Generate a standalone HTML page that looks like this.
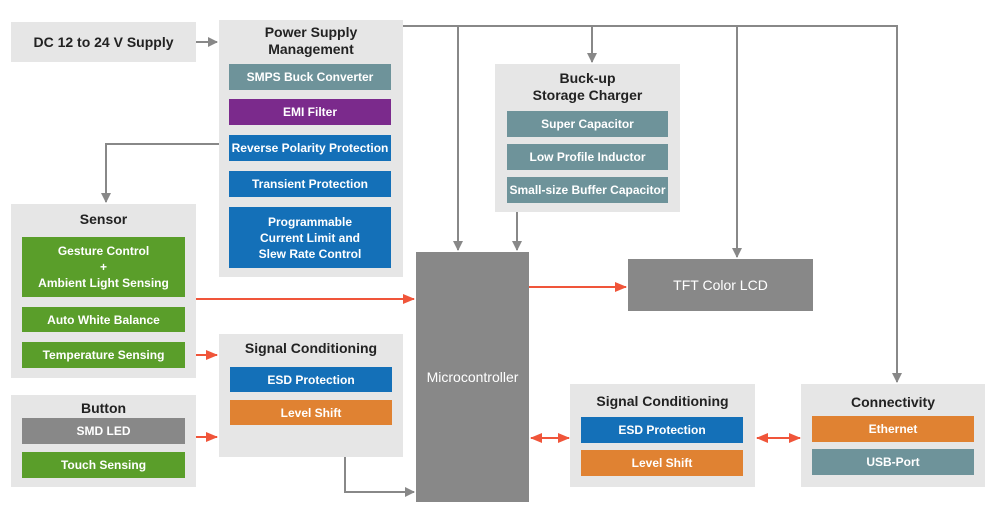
<!DOCTYPE html>
<html><head><style>
body{margin:0;width:995px;height:518px;background:#fff;position:relative;font-family:"Liberation Sans",Arial,sans-serif;overflow:hidden}
.g{position:absolute;background:#e6e6e6}
.t{position:absolute;font-weight:bold;color:#222;font-size:14px;text-align:center;line-height:17px}
.b{position:absolute;color:#fff;font-weight:bold;font-size:12px;display:flex;align-items:center;justify-content:center;text-align:center;line-height:16px}
.s{background:#6e939a}.p{background:#7b2a8c}.bl{background:#1470b8}.gr{background:#5a9e2a}.o{background:#e08232}.gy{background:#888}
svg{position:absolute;left:0;top:0}
</style></head><body>
<div class="g" style="left:11px;top:22px;width:185px;height:40px"></div>
<div class="t" style="left:11px;top:34px;width:185px">DC 12 to 24 V Supply</div>

<div class="g" style="left:219px;top:20px;width:184px;height:257px"></div>
<div class="t" style="left:219px;top:24px;width:184px">Power Supply<br>Management</div>
<div class="b s" style="left:229px;top:64px;width:162px;height:26px">SMPS Buck Converter</div>
<div class="b p" style="left:229px;top:99px;width:162px;height:26px">EMI Filter</div>
<div class="b bl" style="left:229px;top:135px;width:162px;height:26px">Reverse Polarity Protection</div>
<div class="b bl" style="left:229px;top:171px;width:162px;height:26px">Transient Protection</div>
<div class="b bl" style="left:229px;top:207px;width:162px;height:61px">Programmable<br>Current Limit and<br>Slew Rate Control</div>

<div class="g" style="left:495px;top:64px;width:185px;height:148px"></div>
<div class="t" style="left:495px;top:70px;width:185px">Buck-up<br>Storage Charger</div>
<div class="b s" style="left:507px;top:111px;width:161px;height:26px">Super Capacitor</div>
<div class="b s" style="left:507px;top:144px;width:161px;height:26px">Low Profile Inductor</div>
<div class="b s" style="left:507px;top:177px;width:161px;height:26px">Small-size Buffer Capacitor</div>

<div class="g" style="left:11px;top:204px;width:185px;height:174px"></div>
<div class="t" style="left:11px;top:211px;width:185px">Sensor</div>
<div class="b gr" style="left:22px;top:237px;width:163px;height:60px">Gesture Control<br>+<br>Ambient Light Sensing</div>
<div class="b gr" style="left:22px;top:307px;width:163px;height:25px">Auto White Balance</div>
<div class="b gr" style="left:22px;top:342px;width:163px;height:26px">Temperature Sensing</div>

<div class="g" style="left:11px;top:395px;width:185px;height:92px"></div>
<div class="t" style="left:11px;top:400px;width:185px">Button</div>
<div class="b gy" style="left:22px;top:418px;width:163px;height:26px">SMD LED</div>
<div class="b gr" style="left:22px;top:452px;width:163px;height:26px">Touch Sensing</div>

<div class="g" style="left:219px;top:334px;width:184px;height:123px"></div>
<div class="t" style="left:219px;top:340px;width:184px">Signal Conditioning</div>
<div class="b bl" style="left:230px;top:367px;width:162px;height:25px">ESD Protection</div>
<div class="b o" style="left:230px;top:400px;width:162px;height:25px">Level Shift</div>

<div class="b gy" style="left:416px;top:252px;width:113px;height:250px;font-size:14px;font-weight:normal">Microcontroller</div>
<div class="b gy" style="left:628px;top:259px;width:185px;height:52px;font-size:14px;font-weight:normal">TFT Color LCD</div>

<div class="g" style="left:570px;top:384px;width:185px;height:103px"></div>
<div class="t" style="left:570px;top:393px;width:185px">Signal Conditioning</div>
<div class="b bl" style="left:581px;top:417px;width:162px;height:26px">ESD Protection</div>
<div class="b o" style="left:581px;top:450px;width:162px;height:26px">Level Shift</div>

<div class="g" style="left:801px;top:384px;width:184px;height:103px"></div>
<div class="t" style="left:801px;top:394px;width:184px">Connectivity</div>
<div class="b o" style="left:812px;top:416px;width:162px;height:26px">Ethernet</div>
<div class="b s" style="left:812px;top:449px;width:162px;height:26px">USB-Port</div>

<svg width="995" height="518">
<defs>
<marker id="ag" markerWidth="10" markerHeight="10" refX="9" refY="5" orient="auto" markerUnits="userSpaceOnUse"><path d="M0,0 L10,5 L0,10z" fill="#888"/></marker>
<marker id="ar" markerWidth="12" markerHeight="10" refX="11" refY="5" orient="auto-start-reverse" markerUnits="userSpaceOnUse"><path d="M0,0 L12,5 L0,10z" fill="#f0553a"/></marker>
</defs>
<g stroke="#888" stroke-width="2" fill="none">
<path d="M196,42H217" marker-end="url(#ag)"/>
<path d="M403,26H897V382" marker-end="url(#ag)"/>
<path d="M458,26V250" marker-end="url(#ag)"/>
<path d="M592,26V62" marker-end="url(#ag)"/>
<path d="M737,26V257" marker-end="url(#ag)"/>
<path d="M219,144H106V202" marker-end="url(#ag)"/>
<path d="M517,212V250" marker-end="url(#ag)"/>
<path d="M345,457V492H414" marker-end="url(#ag)"/>
</g>
<g stroke="#f0553a" stroke-width="2" fill="none">
<path d="M196,299H414" marker-end="url(#ar)"/>
<path d="M196,355H217" marker-end="url(#ar)"/>
<path d="M196,437H217" marker-end="url(#ar)"/>
<path d="M529,287H626" marker-end="url(#ar)"/>
<path d="M531,438H569" marker-start="url(#ar)" marker-end="url(#ar)"/>
<path d="M757,438H800" marker-start="url(#ar)" marker-end="url(#ar)"/>
</g>
</svg>
</body></html>
